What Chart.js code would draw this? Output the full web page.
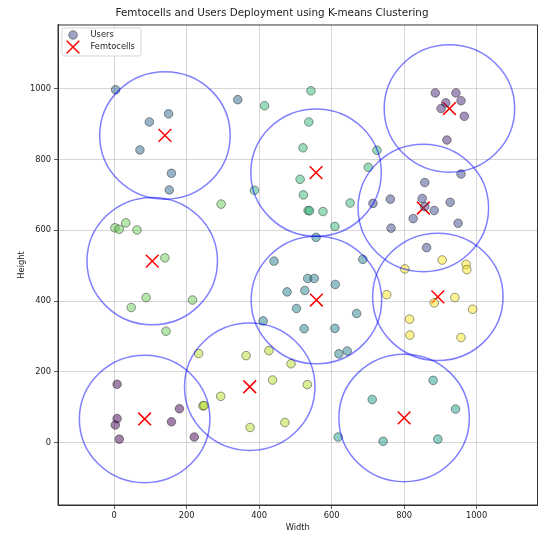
<!DOCTYPE html>
<html>
<head>
<meta charset="utf-8">
<script src="https://cdn.jsdelivr.net/npm/chart.js@4.4.0/dist/chart.umd.min.js"></script>
<style>
  html, body { margin: 0; padding: 0; background: #fff; }
  #wrap { width: 548px; height: 533px; }
</style>
</head>
<body>
<div id="wrap"><canvas id="chart" width="548" height="533"></canvas></div>
<script>
// users, grouped by the cluster they were assigned to
const userX = [
  8, 8, 3, 14, 158, 180, 221,
  886, 943, 915, 957, 902, 966, 918,
  957, 857, 714, 762, 850, 857, 883, 927, 825, 949, 764, 862,
  4, 341, 97, 150, 71, 158, 152,
  557, 686, 534, 552, 610, 477, 526, 503, 669, 524, 609, 441, 411, 620, 643,
  712, 880, 942, 742, 893, 618,
  415, 543, 537, 521, 725, 513, 701, 522, 651, 535, 539, 576, 609, 387,
  2, 14, 32, 63, 140, 88, 47, 216, 143, 295,
  233, 245, 248, 294, 364, 427, 488, 437, 375, 471, 533,
  905, 802, 971, 973, 752, 883, 940, 989, 815, 816, 957
];
const userY = [
  165, 68, 50, 10, 59, 96, 16,
  988, 988, 960, 966, 944, 922, 855,
  759, 735, 676, 688, 690, 667, 656, 679, 633, 620, 606, 551,
  997, 969, 906, 929, 827, 761, 714,
  580, 518, 464, 464, 447, 426, 430, 379, 365, 322, 323, 513, 344, 251, 259,
  122, 176, 95, 4, 10, 16,
  952, 994, 906, 833, 826, 744, 778, 700, 677, 656, 655, 653, 611, 713,
  607, 603, 621, 601, 522, 410, 382, 403, 315, 674,
  252, 104, 105, 131, 246, 260, 223, 177, 43, 57, 164,
  516, 491, 504, 489, 418, 395, 410, 377, 349, 304, 297
];
const userCluster = [
  0, 0, 0, 0, 0, 0, 0,
  1, 1, 1, 1, 1, 1, 1,
  2, 2, 2, 2, 2, 2, 2, 2, 2, 2, 2, 2,
  3, 3, 3, 3, 3, 3, 3,
  4, 4, 4, 4, 4, 4, 4, 4, 4, 4, 4, 4, 4, 4, 4,
  5, 5, 5, 5, 5, 5,
  6, 6, 6, 6, 6, 6, 6, 6, 6, 6, 6, 6, 6, 6,
  7, 7, 7, 7, 7, 7, 7, 7, 7, 7,
  8, 8, 8, 8, 8, 8, 8, 8, 8, 8, 8,
  9, 9, 9, 9, 9, 9, 9, 9, 9, 9, 9
];

// k-means centres (femtocells)
const femtoX = [84, 925, 853, 140, 558, 800, 557, 105, 374, 893];
const femtoY = [67, 944, 663, 868, 403, 70, 763, 513, 158, 412];
const coverageRadius = 180;

// viridis, 10 steps
const clusterColors = [
  [68, 1, 84], [72, 40, 120], [62, 73, 137], [49, 104, 142], [38, 130, 142],
  [31, 158, 137], [53, 183, 121], [110, 206, 88], [181, 222, 43], [253, 231, 37]
];

const xTicks = [0, 200, 400, 600, 800, 1000];
const yTicks = [0, 200, 400, 600, 800, 1000];

const FONT = "'DejaVu Sans', sans-serif";
const rgba = (c, a) => "rgba(" + c[0] + "," + c[1] + "," + c[2] + "," + a + ")";

const users = userX.map((x, i) => ({ x: x, y: userY[i] }));
const femtos = femtoX.map((x, i) => ({ x: x, y: femtoY[i] }));

const coveragePlugin = {
  id: "coverage",
  afterDatasetsDraw(chart) {
    const { ctx, chartArea, scales } = chart;
    ctx.save();
    ctx.beginPath();
    ctx.rect(chartArea.left, chartArea.top, chartArea.right - chartArea.left, chartArea.bottom - chartArea.top);
    ctx.clip();
    ctx.strokeStyle = "rgba(0,0,255,0.5)";
    ctx.lineWidth = 1.5;
    femtoX.forEach((fx, i) => {
      const cx = scales.x.getPixelForValue(fx);
      const cy = scales.y.getPixelForValue(femtoY[i]);
      const rx = scales.x.getPixelForValue(fx + coverageRadius) - cx;
      const ry = cy - scales.y.getPixelForValue(femtoY[i] + coverageRadius);
      ctx.beginPath();
      ctx.ellipse(cx, cy, rx, ry, 0, 0, Math.PI * 2);
      ctx.stroke();
    });
    ctx.restore();
  }
};

const framePlugin = {
  id: "frame",
  afterDraw(chart) {
    const { ctx, chartArea } = chart;
    ctx.save();
    ctx.strokeStyle = "#333";
    ctx.lineWidth = 1;
    ctx.strokeRect(chartArea.left, chartArea.top, chartArea.right - chartArea.left, chartArea.bottom - chartArea.top);

    // legend box, top-left inside the axes
    const bx = chartArea.left + 4, by = chartArea.top + 3, bw = 79, bh = 28;
    ctx.fillStyle = "rgba(255,255,255,0.8)";
    ctx.strokeStyle = "#d6d6d6";
    ctx.beginPath();
    ctx.roundRect(bx, by, bw, bh, 2);
    ctx.fill();
    ctx.stroke();

    const mx = bx + 11;
    ctx.fillStyle = rgba(clusterColors[2], 0.5);
    ctx.strokeStyle = "rgba(0,0,0,0.5)";
    ctx.lineWidth = 0.8;
    ctx.beginPath();
    ctx.arc(mx, by + 7, 4.3, 0, Math.PI * 2);
    ctx.fill();
    ctx.stroke();

    ctx.strokeStyle = "red";
    ctx.lineWidth = 1.5;
    ctx.beginPath();
    ctx.moveTo(mx - 6.3, by + 19 - 6.3);
    ctx.lineTo(mx + 6.3, by + 19 + 6.3);
    ctx.moveTo(mx + 6.3, by + 19 - 6.3);
    ctx.lineTo(mx - 6.3, by + 19 + 6.3);
    ctx.stroke();

    ctx.fillStyle = "#222";
    ctx.font = "8.3px " + FONT;
    ctx.textBaseline = "middle";
    ctx.textAlign = "left";
    ctx.fillText("Users", bx + 28.5, by + 7);
    ctx.fillText("Femtocells", bx + 28.5, by + 19);
    ctx.restore();
  }
};

new Chart(document.getElementById("chart"), {
  type: "scatter",
  data: {
    datasets: [
      {
        label: "Users",
        data: users,
        backgroundColor: userCluster.map(c => rgba(clusterColors[c], 0.5)),
        borderColor: "rgba(0,0,0,0.5)",
        borderWidth: 0.8,
        pointRadius: 4.3,
        pointHoverRadius: 4.3
      },
      {
        label: "Femtocells",
        data: femtos,
        pointStyle: "crossRot",
        borderColor: "red",
        borderWidth: 1.5,
        pointRadius: 9,
        pointHoverRadius: 9
      }
    ]
  },
  options: {
    responsive: false,
    animation: false,
    events: [],
    layout: { padding: { left: 0, right: 4, top: 0, bottom: 0 } },
    plugins: {
      legend: { display: false },
      tooltip: { enabled: false },
      title: {
        display: true,
        text: "Femtocells and Users Deployment using K-means Clustering",
        color: "#222",
        font: { family: FONT, size: 10.4, weight: "normal" },
        padding: { top: 7.5, bottom: 5 }
      }
    },
    scales: {
      x: {
        type: "linear",
        min: -155,
        max: 1168,
        afterBuildTicks: s => { s.ticks = xTicks.map(v => ({ value: v })); },
        afterFit: s => { s.height = 28; },
        ticks: { color: "#222", padding: 2, maxRotation: 0, font: { family: FONT, size: 8.3 }, callback: v => String(v) },
        grid: { color: "rgba(176,176,176,0.65)", lineWidth: 0.8, tickColor: "#333", tickLength: 4 },
        border: { color: "#333", width: 1 },
        title: { display: true, text: "Width", color: "#222", padding: 0, font: { family: FONT, size: 8.3 } }
      },
      y: {
        type: "linear",
        min: -176,
        max: 1180,
        afterBuildTicks: s => { s.ticks = yTicks.map(v => ({ value: v })); },
        afterFit: s => { s.width = 58; },
        ticks: { color: "#222", padding: 3, font: { family: FONT, size: 8.3 }, callback: v => String(v) },
        grid: { color: "rgba(176,176,176,0.65)", lineWidth: 0.8, tickColor: "#333", tickLength: 4 },
        border: { color: "#333", width: 1 },
        title: { display: true, text: "Height", color: "#222", padding: { top: 17, bottom: 0 }, font: { family: FONT, size: 8.3 } }
      }
    }
  },
  plugins: [coveragePlugin, framePlugin]
});
</script>
</body>
</html>
